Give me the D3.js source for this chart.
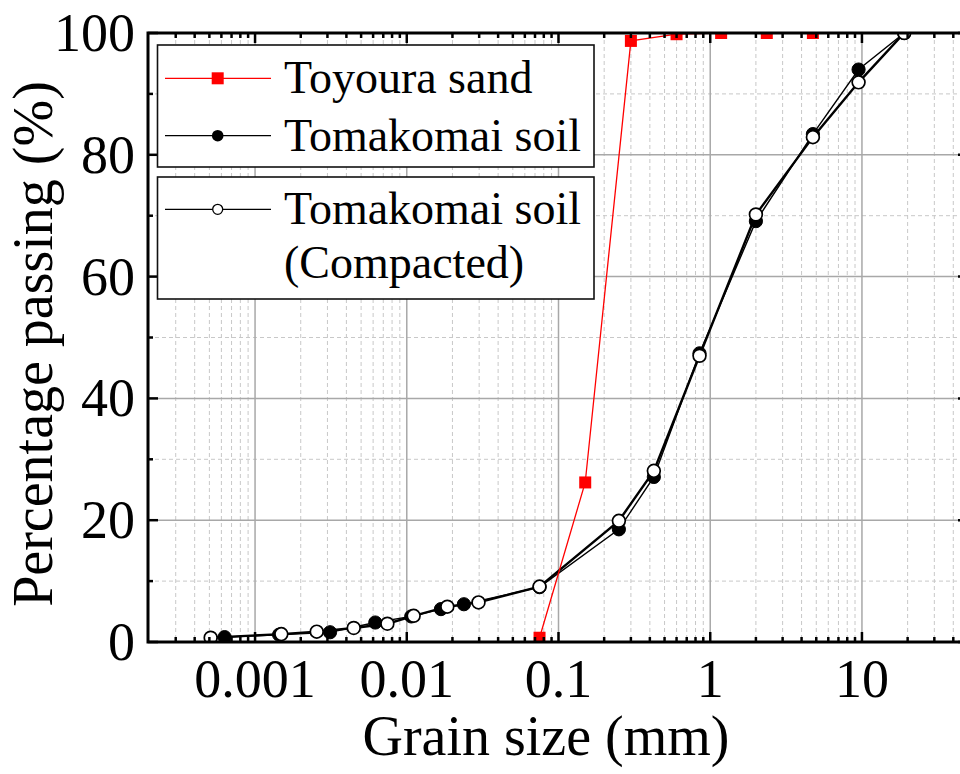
<!DOCTYPE html>
<html>
<head>
<meta charset="utf-8">
<script src="https://cdn.jsdelivr.net/npm/d3@7/dist/d3.min.js"></script>
<style>
  html, body { margin: 0; padding: 0; background: #fff; }
  svg { display: block; }
  text { font-family: "Liberation Serif", "Times New Roman", serif; fill: #000; }
</style>
</head>
<body>
<svg id="chart" width="960" height="774"></svg>
<script>
// ---- data ----
const toyouraSize = [0.075, 0.15, 0.3, 0.6, 1.18, 2.36, 4.75];
const toyouraPass = [0.7, 26.2, 98.7, 99.8, 100, 100, 100];

const tomakomaiSize = [0.00063, 0.00144, 0.00312, 0.0062, 0.0107, 0.0168, 0.0238, 0.075, 0.25, 0.425, 0.85, 2, 4.75, 9.5, 19];
const tomakomaiPass = [0.8, 1.2, 1.6, 3.2, 4.2, 5.4, 6.2, 9.0, 18.5, 27.1, 47.4, 69.1, 83.4, 94.0, 100];

const compactedSize = [0.00051, 0.00149, 0.00255, 0.00447, 0.00745, 0.0111, 0.0185, 0.0297, 0.075, 0.25, 0.425, 0.85, 2, 4.75, 9.5, 19];
const compactedPass = [0.7, 1.3, 1.7, 2.3, 3.0, 4.3, 5.8, 6.5, 9.1, 19.9, 28.1, 47.0, 70.2, 82.9, 91.9, 100];

const xTickValues = [0.001, 0.01, 0.1, 1, 10];
const xTickLabels = ["0.001", "0.01", "0.1", "1", "10"];
const yTickValues = [0, 20, 40, 60, 80, 100];
const yMinorValues = [10, 30, 50, 70, 90];

const seriesNames = ["Toyoura sand", "Tomakomai soil", "Tomakomai soil", "(Compacted)"];
const xTitle = "Grain size (mm)";
const yTitle = "Percentage passing (%)";

// ---- layout ----
const svg = d3.select("#chart");
const L = 148, R = 968, T = 33, B = 642;
const x = d3.scaleLog().domain([0.0002, 50]).range([149, 968]);
const y = d3.scaleLinear().domain([0, 100]).range([B, T]);

svg.append("rect").attr("width", 960).attr("height", 774).attr("fill", "#fff");

// minor x values
const xMinor = [];
for (let e = -4; e <= 1; e++) {
  for (let m = 2; m <= 9; m++) {
    const v = m * Math.pow(10, e);
    if (v > 0.0002 && v < 50) xMinor.push(v);
  }
}

const grid = svg.append("g");
grid.selectAll("line.xm").data(xMinor).enter().append("line")
  .attr("x1", d => x(d)).attr("x2", d => x(d)).attr("y1", T).attr("y2", B)
  .attr("stroke", "#c8c8c8").attr("stroke-width", 1).attr("stroke-dasharray", "4,3");
grid.selectAll("line.ym").data(yMinorValues).enter().append("line")
  .attr("x1", L).attr("x2", R).attr("y1", d => y(d)).attr("y2", d => y(d))
  .attr("stroke", "#c8c8c8").attr("stroke-width", 1).attr("stroke-dasharray", "4,3");
grid.selectAll("line.xM").data(xTickValues).enter().append("line")
  .attr("x1", d => x(d)).attr("x2", d => x(d)).attr("y1", T).attr("y2", B)
  .attr("stroke", "#a8a8a8").attr("stroke-width", 1.5);
grid.selectAll("line.yM").data(yTickValues.slice(1, -1)).enter().append("line")
  .attr("x1", L).attr("x2", R).attr("y1", d => y(d)).attr("y2", d => y(d))
  .attr("stroke", "#a8a8a8").attr("stroke-width", 1.5);

svg.append("clipPath").attr("id", "clip").append("rect")
  .attr("x", L).attr("y", T).attr("width", R - L).attr("height", B - T);
const plot = svg.append("g").attr("clip-path", "url(#clip)");

const line = d3.line().x(d => x(d[0])).y(d => y(d[1]));
const toy = toyouraSize.map((s, i) => [s, toyouraPass[i]]);
const tom = tomakomaiSize.map((s, i) => [s, tomakomaiPass[i]]);
const com = compactedSize.map((s, i) => [s, compactedPass[i]]);

plot.append("path").datum(com).attr("d", line).attr("fill", "none").attr("stroke", "#000").attr("stroke-width", 2.4);
plot.append("path").datum(tom).attr("d", line).attr("fill", "none").attr("stroke", "#000").attr("stroke-width", 1.4);
plot.append("path").datum(toy).attr("d", line).attr("fill", "none").attr("stroke", "#ff0000").attr("stroke-width", 1.3);

plot.selectAll("circle.tom").data(tom).enter().append("circle")
  .attr("cx", d => x(d[0])).attr("cy", d => y(d[1])).attr("r", 6.6)
  .attr("fill", "#000").attr("stroke", "#000").attr("stroke-width", 1);
plot.selectAll("circle.com").data(com).enter().append("circle")
  .attr("cx", d => x(d[0])).attr("cy", d => y(d[1])).attr("r", 6.4)
  .attr("fill", "#fff").attr("stroke", "#000").attr("stroke-width", 1.7);
plot.selectAll("rect.toy").data(toy).enter().append("rect")
  .attr("x", d => x(d[0]) - 6).attr("y", d => y(d[1]) - 6).attr("width", 12).attr("height", 12)
  .attr("fill", "#ff0000");

const tk = svg.append("g").attr("stroke", "#000").attr("stroke-width", 2.5);
xTickValues.forEach(v => {
  tk.append("line").attr("x1", x(v)).attr("x2", x(v)).attr("y1", B).attr("y2", B - 10);
  tk.append("line").attr("x1", x(v)).attr("x2", x(v)).attr("y1", T).attr("y2", T + 10);
});
xMinor.forEach(v => {
  tk.append("line").attr("x1", x(v)).attr("x2", x(v)).attr("y1", B).attr("y2", B - 5);
  tk.append("line").attr("x1", x(v)).attr("x2", x(v)).attr("y1", T).attr("y2", T + 5);
});
yTickValues.forEach(v => {
  tk.append("line").attr("x1", L).attr("x2", L + 10).attr("y1", y(v)).attr("y2", y(v));
  tk.append("line").attr("x1", R).attr("x2", R - 10).attr("y1", y(v)).attr("y2", y(v));
});
yMinorValues.forEach(v => {
  tk.append("line").attr("x1", L).attr("x2", L + 5).attr("y1", y(v)).attr("y2", y(v));
  tk.append("line").attr("x1", R).attr("x2", R - 5).attr("y1", y(v)).attr("y2", y(v));
});

svg.append("rect").attr("x", L).attr("y", T).attr("width", R - L).attr("height", B - T)
  .attr("fill", "none").attr("stroke", "#000").attr("stroke-width", 3);

svg.selectAll("text.xl").data(xTickValues).enter().append("text")
  .attr("x", d => x(d)).attr("y", 697).attr("text-anchor", "middle")
  .attr("font-size", 54).text((d, i) => xTickLabels[i]);
svg.selectAll("text.yl").data(yTickValues).enter().append("text")
  .attr("x", 135).attr("y", d => y(d) + 18).attr("text-anchor", "end")
  .attr("font-size", 54).text(d => d);

svg.append("text").attr("x", 546).attr("y", 755).attr("text-anchor", "middle")
  .attr("font-size", 56).text(xTitle);
svg.append("text").attr("transform", "translate(52,344) rotate(-90)").attr("text-anchor", "middle")
  .attr("font-size", 56).text(yTitle);

const lg = svg.append("g");
lg.append("rect").attr("x", 157.5).attr("y", 45).attr("width", 436.5).attr("height", 122)
  .attr("fill", "#fff").attr("stroke", "#111").attr("stroke-width", 1.6);
lg.append("rect").attr("x", 157.5).attr("y", 177).attr("width", 436.5).attr("height", 122)
  .attr("fill", "#fff").attr("stroke", "#111").attr("stroke-width", 1.6);
const rows = [78.3, 135.7, 209.3];
lg.append("line").attr("x1", 165).attr("x2", 271).attr("y1", rows[0]).attr("y2", rows[0]).attr("stroke", "#ff0000").attr("stroke-width", 1.3);
lg.append("rect").attr("x", 217.7 - 6).attr("y", rows[0] - 6).attr("width", 12).attr("height", 12).attr("fill", "#ff0000");
lg.append("line").attr("x1", 165).attr("x2", 271).attr("y1", rows[1]).attr("y2", rows[1]).attr("stroke", "#000").attr("stroke-width", 1.3);
lg.append("circle").attr("cx", 217.7).attr("cy", rows[1]).attr("r", 5.8).attr("fill", "#000");
lg.append("line").attr("x1", 165).attr("x2", 271).attr("y1", rows[2]).attr("y2", rows[2]).attr("stroke", "#000").attr("stroke-width", 1.3);
lg.append("circle").attr("cx", 217.7).attr("cy", rows[2]).attr("r", 5).attr("fill", "#fff").attr("stroke", "#000").attr("stroke-width", 1.3);
const textY = [92.7, 150.7, 224, 278];
seriesNames.forEach((n, i) => {
  lg.append("text").attr("x", 284).attr("y", textY[i]).attr("font-size", 46).text(n);
});
</script>
</body>
</html>
